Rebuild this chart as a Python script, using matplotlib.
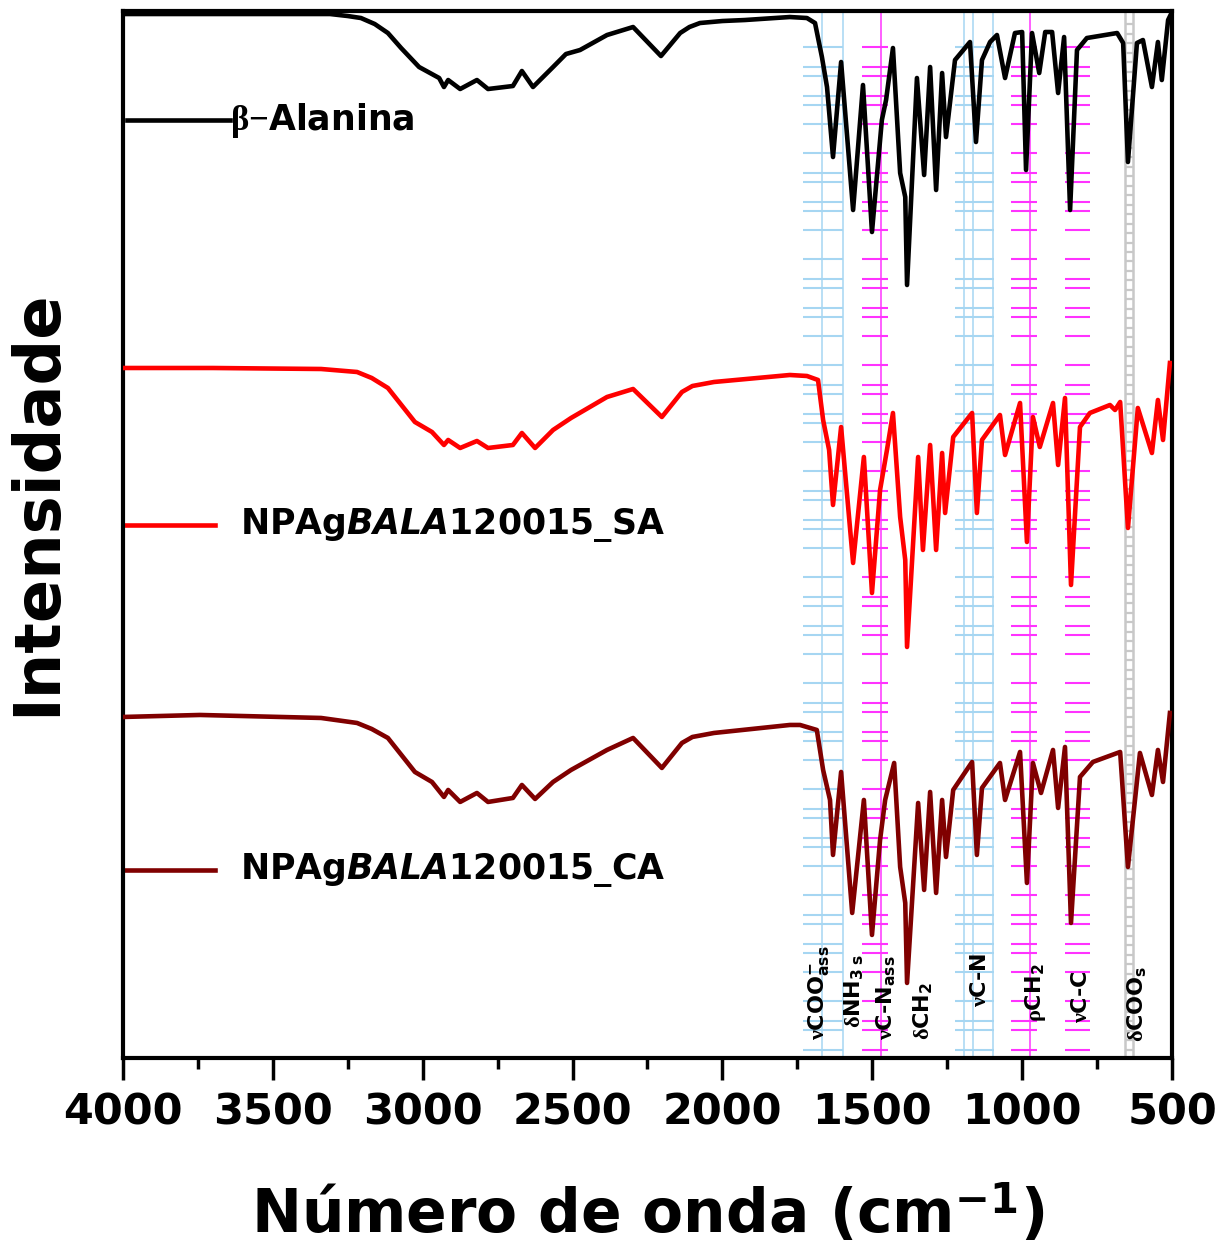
import numpy as np
import matplotlib
matplotlib.use('Agg')
import matplotlib.pyplot as plt

plt.rcParams['font.family'] = 'DejaVu Sans'
plt.rcParams['font.weight'] = 'bold'
plt.rcParams['mathtext.fontset'] = 'custom'
plt.rcParams['mathtext.rm'] = 'Liberation Serif'
plt.rcParams['mathtext.it'] = 'Liberation Serif:italic'
plt.rcParams['mathtext.bf'] = 'DejaVu Sans:bold'
plt.rcParams['mathtext.bfit'] = 'DejaVu Sans:italic:bold'

# spectra (wavenumber, intensity in a.u. incl. vertical offset)
wn_ala = [4000, 3700, 3400, 3309, 3250, 3206, 3160, 3116, 3072, 3012, 2945, 2929, 2915, 2875, 2819,
          2782, 2699, 2669, 2632, 2565, 2522, 2475, 2385, 2298, 2205, 2141, 2110, 2075, 2000, 1925,
          1775, 1718, 1691, 1668, 1651, 1631, 1604, 1564, 1531, 1501, 1468, 1454, 1431, 1407, 1390,
          1384, 1351, 1327, 1307, 1287, 1267, 1254, 1224, 1174, 1154, 1134, 1107, 1084, 1057, 1024,
          1000, 987, 967, 943, 923, 900, 880, 860, 840, 817, 784, 683, 663, 647, 617,
          597, 567, 547, 534, 513, 500]
int_ala = [1044, 1044, 1044, 1044, 1042, 1040, 1034, 1025, 1010, 991, 980, 971, 978, 969, 978,
           969, 972, 987, 971, 991, 1004, 1008, 1023, 1031, 1002, 1025, 1031, 1035, 1037, 1038,
           1041, 1040, 1035, 1001, 971, 901, 996, 848, 973, 826, 938, 958, 1010, 885, 861,
           773, 980, 883, 991, 868, 985, 921, 998, 1016, 916, 998, 1016, 1023, 980, 1025,
           1026, 888, 1025, 985, 1026, 1026, 965, 1021, 848, 1008, 1020, 1025, 1015, 896, 1015,
           1018, 971, 1016, 978, 1038, 1046]

wn_sa = [4000, 3700, 3339, 3219, 3170, 3116, 3026, 2969, 2929, 2915, 2875, 2819, 2782, 2699, 2669,
         2625, 2565, 2505, 2385, 2298, 2202, 2135, 2100, 2028, 1775, 1718, 1681, 1664, 1644, 1631,
         1604, 1564, 1528, 1501, 1474, 1451, 1431, 1407, 1390, 1384, 1347, 1331, 1307, 1287, 1267,
         1257, 1230, 1167, 1151, 1134, 1074, 1057, 1007, 984, 964, 941, 897, 880, 857, 837,
         807, 774, 707, 690, 673, 647, 614, 567, 547, 530, 507]
int_sa = [690, 690, 689, 686, 680, 670, 636, 626, 613, 618, 610, 617, 610, 613, 625,
          610, 628, 640, 661, 669, 641, 666, 672, 676, 683, 682, 678, 638, 608, 553,
          631, 495, 601, 465, 568, 608, 645, 541, 498, 411, 601, 508, 613, 508, 605,
          545, 621, 645, 545, 618, 643, 603, 655, 516, 641, 611, 655, 593, 660, 473,
          631, 645, 653, 648, 656, 530, 650, 605, 658, 618, 695]

wn_ca = [4000, 3743, 3339, 3219, 3170, 3116, 3026, 2969, 2929, 2915, 2875, 2819, 2782, 2699, 2669,
         2625, 2565, 2505, 2385, 2298, 2202, 2135, 2100, 2028, 1775, 1741, 1685, 1664, 1641, 1631,
         1604, 1567, 1528, 1501, 1474, 1457, 1427, 1407, 1390, 1384, 1347, 1327, 1307, 1287, 1267,
         1254, 1230, 1167, 1151, 1134, 1074, 1057, 1007, 984, 964, 937, 897, 880, 857, 837,
         807, 764, 673, 647, 607, 567, 547, 530, 507]
int_ca = [341, 343, 340, 335, 329, 320, 286, 276, 261, 268, 256, 265, 256, 260, 273,
          259, 276, 288, 308, 320, 290, 315, 321, 325, 333, 333, 328, 288, 258, 203,
          286, 145, 258, 123, 218, 258, 295, 191, 155, 75, 255, 168, 266, 165, 258,
          201, 268, 296, 203, 270, 295, 258, 306, 175, 295, 265, 308, 250, 311, 135,
          281, 296, 306, 191, 305, 263, 308, 276, 345]

series_names = [r'$\mathrm{\beta}{-}$Alanina', r'NPAg$\mathbfit{BALA}$120015_SA', r'NPAg$\mathbfit{BALA}$120015_CA']
series_colors = ['black', '#ff0000', '#800000']

# band assignment labels
band_labels = [r'$\mathrm{\nu}$COO$^{\mathbf{-}}_{\mathbf{ass}}$', r'$\mathrm{\delta}$NH$_{\mathbf{3\ s}}$',
               r'$\mathrm{\nu}$C-N$_{\mathbf{ass}}$', r'$\mathrm{\delta}$CH$_{\mathbf{2}}$',
               r'$\mathrm{\nu}$C-N', r'$\mathrm{\rho}$CH$_{\mathbf{2}}$', r'$\mathrm{\nu}$C-C',
               r'$\mathrm{\delta}$COO$_{\mathbf{s}}$']
band_label_wn = [1681, 1561, 1457, 1334, 1141, 957, 803, 620]
band_label_y = [18, 30, 18, 18, 51, 36, 35, 16]

# marker rulers: (left, right, vertical lines, colour)
rulers = [(1731, 1598, [1668, 1598], '#a6d6f2'),
          (1534, 1447, [1471], '#ff33ff'),
          (1224, 1094, [1194, 1164, 1097], '#a6d6f2'),
          (1037, 950, [974], '#ff33ff'),
          (857, 774, [], '#ff33ff')]

fig = plt.figure(figsize=(12.32, 12.52), dpi=100)
ax = fig.add_axes([0.0998, 0.155, 0.8515, 0.8362])

# ruler-style band markers
period = 106
offs = [0, 20, 29, 49, 58, 77]
for left, right, vlines, col in rulers:
    for v in vlines:
        ax.axvline(v, color=col, lw=1.1, zorder=1)
    ys = []
    for base in np.arange(693 - 7 * period, 1047, period):
        ys += [base - o for o in offs]
    ys = [y for y in ys if 5 < y < 1040]
    ax.hlines(ys, right, left, color=col, lw=1.5, zorder=1)

# grey ladder for delta COO
ax.axvline(657, color='#c8c8c8', lw=1.8, zorder=1)
ax.axvline(630, color='#c8c8c8', lw=1.8, zorder=1)
ax.hlines(np.arange(8, 1040, 9.5), 630, 657, color='#c8c8c8', lw=1.6, zorder=1)

for wn, val, col in zip([wn_ala, wn_sa, wn_ca], [int_ala, int_sa, int_ca], series_colors):
    ax.plot(wn, val, color=col, lw=3.3, zorder=3, solid_joinstyle='round')

# legend-like keys
key_y = [938, 533, 188]
key_x0 = [3987, 3993, 3993]
key_x1 = [3643, 3693, 3693]
key_tx = [3643, 3610, 3610]
for name, col, y, x0, x1, tx in zip(series_names, series_colors, key_y, key_x0, key_x1, key_tx):
    ax.plot([x0, x1], [y, y], color=col, lw=3.3)
    ax.text(tx, y, name, fontsize=25, fontweight='bold', va='center', ha='left')

for lab, x, y in zip(band_labels, band_label_wn, band_label_y):
    ax.text(x, y, lab, rotation=90, fontsize=16, fontweight='bold', ha='center', va='bottom', zorder=4)

ax.set_xlim(4000, 500)
ax.set_ylim(0, 1047)
ax.set_xticks(np.arange(4000, 499, -500))
ax.set_xticks(np.arange(3750, 500, -500), minor=True)
ax.set_yticks([])
ax.tick_params(axis='x', which='major', direction='out', length=16, width=2.5, labelsize=31, pad=8)
ax.tick_params(axis='x', which='minor', direction='out', length=8, width=2.5)
for lab in ax.get_xticklabels():
    lab.set_fontweight('bold')
for spine in ax.spines.values():
    spine.set_linewidth(3)

ax.set_xlabel(r'Número de onda (cm$^{\mathbf{-1}}$)', fontsize=43, fontweight='bold', labelpad=36)
ax.set_ylabel('Intensidade', fontsize=46, fontweight='bold')
ax.yaxis.set_label_coords(-0.052, 0.53)

fig.savefig('out.png', dpi=100)
